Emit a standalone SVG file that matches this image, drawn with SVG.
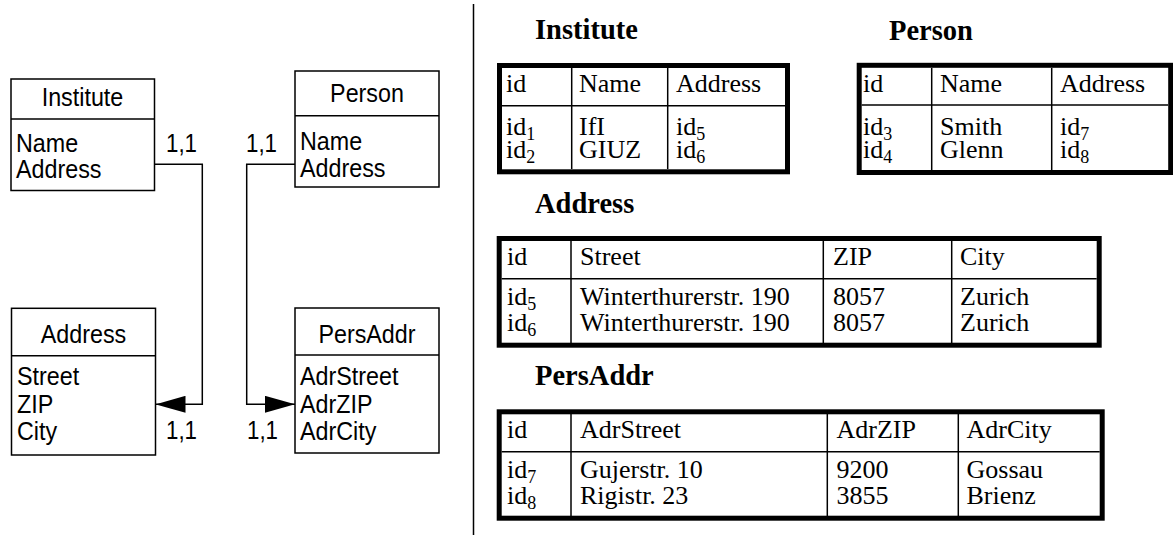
<svg xmlns="http://www.w3.org/2000/svg" width="1173" height="536" viewBox="0 0 1173 536">
  <style>
    .box{fill:#fff;stroke:#000;stroke-width:1.5}
    .sep{stroke:#000;stroke-width:1.5}
    .uml{font-family:"Liberation Sans",Arial,Helvetica,sans-serif;font-size:25.5px;fill:#000}
    .mid{text-anchor:middle}
    .title{font-family:"Liberation Serif","Times New Roman",serif;font-size:28.5px;font-weight:bold;fill:#000}
    .cell{font-family:"Liberation Serif","Times New Roman",serif;font-size:26px;fill:#000}
    .sub{font-size:18px}
    .frame{fill:none;stroke:#000;stroke-width:5}
    .grid{stroke:#000;stroke-width:1.5}
    .conn{fill:none;stroke:#000;stroke-width:1.5}
  </style>
  <defs>
    <marker id="arrow" markerUnits="userSpaceOnUse" viewBox="0 0 30 17" refX="30" refY="8.5" markerWidth="30" markerHeight="17" orient="auto">
      <path d="M0,0 L30,8.5 L0,17 Z" fill="#000"/>
    </marker>
  </defs>
  <rect width="1173" height="536" fill="#fff"/>

  <!-- entity boxes (narrow sans labels) -->
  <g id="institute-entity">
    <rect class="box" x="11" y="79" width="143.5" height="111.5"/>
    <line class="sep" x1="11" y1="119" x2="154.5" y2="119"/>
    <text class="uml mid" x="82.5" y="106" textLength="81.6" lengthAdjust="spacingAndGlyphs">Institute</text>
    <text class="uml" x="16" y="151.5" textLength="62.1" lengthAdjust="spacingAndGlyphs">Name</text>
    <text class="uml" x="16" y="178" textLength="85.5" lengthAdjust="spacingAndGlyphs">Address</text>
  </g>
  <g id="person-entity">
    <rect class="box" x="295" y="71" width="144" height="116"/>
    <line class="sep" x1="295" y1="115.7" x2="439" y2="115.7"/>
    <text class="uml mid" x="367" y="101.7" textLength="73.8" lengthAdjust="spacingAndGlyphs">Person</text>
    <text class="uml" x="300" y="150" textLength="62.1" lengthAdjust="spacingAndGlyphs">Name</text>
    <text class="uml" x="300" y="176.5" textLength="85.5" lengthAdjust="spacingAndGlyphs">Address</text>
  </g>
  <g id="address-entity">
    <rect class="box" x="11.5" y="308.3" width="144" height="146.7"/>
    <line class="sep" x1="11.5" y1="355.7" x2="155.5" y2="355.7"/>
    <text class="uml mid" x="83.5" y="343" textLength="85.5" lengthAdjust="spacingAndGlyphs">Address</text>
    <text class="uml" x="17" y="385" textLength="62.2" lengthAdjust="spacingAndGlyphs">Street</text>
    <text class="uml" x="17" y="412.5" textLength="36.3" lengthAdjust="spacingAndGlyphs">ZIP</text>
    <text class="uml" x="17" y="440" textLength="40.1" lengthAdjust="spacingAndGlyphs">City</text>
  </g>
  <g id="persaddr-entity">
    <rect class="box" x="295" y="308" width="144" height="145"/>
    <line class="sep" x1="295" y1="355" x2="439" y2="355"/>
    <text class="uml mid" x="367" y="342.7" textLength="97.1" lengthAdjust="spacingAndGlyphs">PersAddr</text>
    <text class="uml" x="300" y="385" textLength="98.4" lengthAdjust="spacingAndGlyphs">AdrStreet</text>
    <text class="uml" x="300" y="412.5" textLength="72.5" lengthAdjust="spacingAndGlyphs">AdrZIP</text>
    <text class="uml" x="300" y="440" textLength="76.4" lengthAdjust="spacingAndGlyphs">AdrCity</text>
  </g>

  <!-- references with cardinalities -->
  <g id="connectors">
    <path class="conn" d="M154.5,164.3 H202.3 V404.3 H155.5" marker-end="url(#arrow)"/>
    <path class="conn" d="M295,164.3 H246.7 V404.3 H295" marker-end="url(#arrow)"/>
    <text class="uml" x="166" y="152" textLength="31" lengthAdjust="spacingAndGlyphs">1,1</text>
    <text class="uml" x="246" y="152" textLength="31" lengthAdjust="spacingAndGlyphs">1,1</text>
    <text class="uml" x="166" y="438.5" textLength="31" lengthAdjust="spacingAndGlyphs">1,1</text>
    <text class="uml" x="247" y="438.5" textLength="31" lengthAdjust="spacingAndGlyphs">1,1</text>
  </g>

  <!-- page divider -->
  <line x1="473.5" y1="4" x2="473.5" y2="535" stroke="#000" stroke-width="1.5"/>

  <!-- relation tables: each data column is one text block of two lines -->
  <g id="institute-table">
    <text class="title" x="535" y="39.3">Institute</text>
    <line class="grid" x1="502" y1="105.7" x2="785" y2="105.7"/>
    <line class="grid" x1="571.7" y1="68" x2="571.7" y2="169"/>
    <line class="grid" x1="667.7" y1="68" x2="667.7" y2="169"/>
    <rect class="frame" x="499.5" y="65.5" width="288" height="106.3"/>
    <text class="cell" x="506" y="91.7">id</text>
    <text class="cell" x="579" y="91.7">Name</text>
    <text class="cell" x="676" y="91.7">Address</text>
    <text class="cell" x="506" y="135">id<tspan class="sub" dy="5">1</tspan><tspan x="506" dy="18.3">id</tspan><tspan class="sub" dy="5">2</tspan></text>
    <text class="cell" x="579" y="135">IfI<tspan x="579" dy="23.3">GIUZ</tspan></text>
    <text class="cell" x="676" y="135">id<tspan class="sub" dy="5">5</tspan><tspan x="676" dy="18.3">id</tspan><tspan class="sub" dy="5">6</tspan></text>
  </g>

  <g id="person-table">
    <text class="title" x="889" y="40">Person</text>
    <line class="grid" x1="861.7" y1="105" x2="1168" y2="105"/>
    <line class="grid" x1="931.7" y1="68" x2="931.7" y2="170"/>
    <line class="grid" x1="1051.7" y1="68" x2="1051.7" y2="170"/>
    <rect class="frame" x="859.2" y="65.3" width="311.5" height="107.2"/>
    <text class="cell" x="863" y="91.7">id</text>
    <text class="cell" x="940" y="91.7">Name</text>
    <text class="cell" x="1060" y="91.7">Address</text>
    <text class="cell" x="863" y="135">id<tspan class="sub" dy="5">3</tspan><tspan x="863" dy="18.3">id</tspan><tspan class="sub" dy="5">4</tspan></text>
    <text class="cell" x="940" y="135">Smith<tspan x="940" dy="23.3">Glenn</tspan></text>
    <text class="cell" x="1060" y="135">id<tspan class="sub" dy="5">7</tspan><tspan x="1060" dy="18.3">id</tspan><tspan class="sub" dy="5">8</tspan></text>
  </g>

  <g id="address-table">
    <text class="title" x="535" y="213.3">Address</text>
    <line class="grid" x1="501.7" y1="278.7" x2="1096.7" y2="278.7"/>
    <line class="grid" x1="571" y1="241" x2="571" y2="343"/>
    <line class="grid" x1="823.3" y1="241" x2="823.3" y2="343"/>
    <line class="grid" x1="951.7" y1="241" x2="951.7" y2="343"/>
    <rect class="frame" x="499.2" y="238.5" width="600" height="106.7"/>
    <text class="cell" x="507" y="265">id</text>
    <text class="cell" x="580" y="265">Street</text>
    <text class="cell" x="833" y="265">ZIP</text>
    <text class="cell" x="960" y="265">City</text>
    <text class="cell" x="507" y="305">id<tspan class="sub" dy="5">5</tspan><tspan x="507" dy="20.7">id</tspan><tspan class="sub" dy="5">6</tspan></text>
    <text class="cell" x="580" y="305">Winterthurerstr. 190<tspan x="580" dy="25.7">Winterthurerstr. 190</tspan></text>
    <text class="cell" x="833" y="305">8057<tspan x="833" dy="25.7">8057</tspan></text>
    <text class="cell" x="960" y="305">Zurich<tspan x="960" dy="25.7">Zurich</tspan></text>
  </g>

  <g id="persaddr-table">
    <text class="title" x="535" y="385">PersAddr</text>
    <line class="grid" x1="501.7" y1="451.7" x2="1099.7" y2="451.7"/>
    <line class="grid" x1="571" y1="414" x2="571" y2="516"/>
    <line class="grid" x1="827.3" y1="414" x2="827.3" y2="516"/>
    <line class="grid" x1="958.3" y1="414" x2="958.3" y2="516"/>
    <rect class="frame" x="499.2" y="411.8" width="603" height="106.4"/>
    <text class="cell" x="507" y="438.3">id</text>
    <text class="cell" x="580" y="438.3">AdrStreet</text>
    <text class="cell" x="836.5" y="438.3">AdrZIP</text>
    <text class="cell" x="966.5" y="438.3">AdrCity</text>
    <text class="cell" x="507" y="478.3">id<tspan class="sub" dy="5">7</tspan><tspan x="507" dy="20.7">id</tspan><tspan class="sub" dy="5">8</tspan></text>
    <text class="cell" x="580" y="478.3">Gujerstr. 10<tspan x="580" dy="25.7">Rigistr. 23</tspan></text>
    <text class="cell" x="836.5" y="478.3">9200<tspan x="836.5" dy="25.7">3855</tspan></text>
    <text class="cell" x="966.5" y="478.3">Gossau<tspan x="966.5" dy="25.7">Brienz</tspan></text>
  </g>
</svg>
